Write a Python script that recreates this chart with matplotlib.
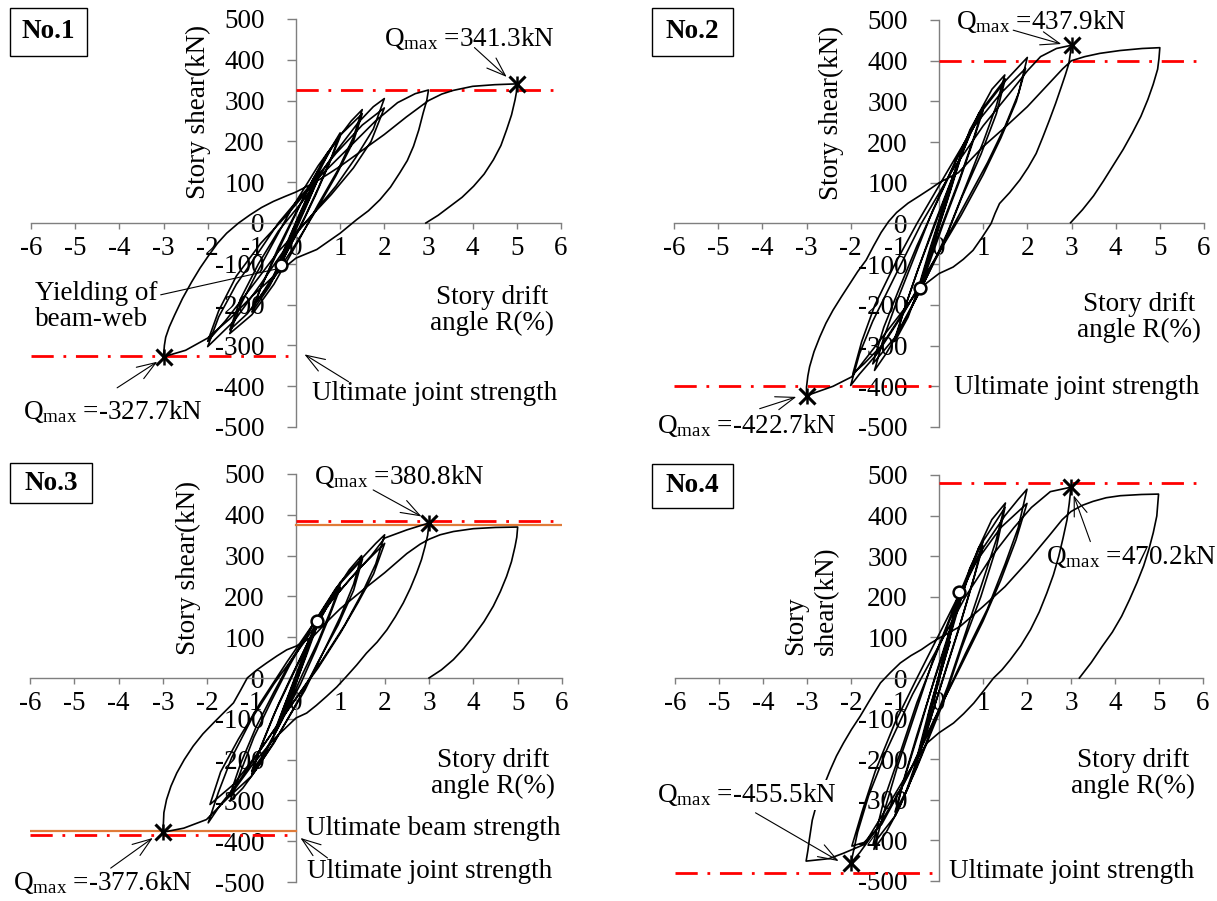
import matplotlib
matplotlib.use("Agg")
import matplotlib.pyplot as plt
from matplotlib.patches import Rectangle

plt.rcParams["font.family"] = "serif"
plt.rcParams["font.serif"] = ["Liberation Serif", "DejaVu Serif"]
plt.rcParams["mathtext.fontset"] = "custom"
plt.rcParams["mathtext.rm"] = "Liberation Serif"
plt.rcParams["mathtext.it"] = "Liberation Serif:italic"
plt.rcParams["mathtext.bf"] = "Liberation Serif:bold"
plt.rcParams["axes.unicode_minus"] = False
plt.rcParams["font.size"] = 19.5


# ============================================================
# data: (drift angle R %, story shear Q kN)
# ============================================================
P1_PATH = [
    (0, 0), (0.25, 60), (0.05, 10), (-0.25, -65), (-0.05, -12),
    (0.5, 112), (0.3, 60), (0.0, -5), (-0.33, -104), (-0.5, -135),
    (-0.3, -80), (0.0, -10), (0.5, 108), (0.25, 45), (-0.1, -40),
    (-0.5, -128), (-0.25, -60), (0.05, 15),
    # +-1 %
    (0.45, 110), (0.8, 185), (1.0, 221), (0.8, 160), (0.5, 85), (0.2, 15),
    (-0.2, -70), (-0.6, -155), (-1.0, -218), (-0.8, -160), (-0.5, -90),
    (-0.15, -10), (0.3, 90), (0.7, 170), (1.0, 212), (0.75, 145),
    (0.45, 70), (0.1, -10), (-0.4, -110), (-0.75, -170), (-1.0, -210),
    (-0.7, -135), (-0.4, -60), (-0.1, 5),
    # +-1.5 %
    (0.4, 110), (0.9, 200), (1.25, 250), (1.5, 278), (1.3, 210),
    (0.95, 130), (0.5, 45), (0.1, -35), (-0.5, -150), (-1.0, -225),
    (-1.5, -271), (-1.25, -200), (-0.9, -125), (-0.5, -45), (-0.1, 35),
    (0.5, 140), (1.0, 215), (1.5, 268), (1.3, 200), (0.9, 115),
    (0.45, 30), (0.0, -50), (-0.6, -150), (-1.1, -222), (-1.5, -262),
    (-1.25, -185), (-0.85, -100), (-0.4, -20),
    # +-2 %
    (0.2, 60), (0.8, 160), (1.4, 245), (1.75, 285), (2.0, 305),
    (1.75, 230), (1.35, 160), (0.9, 90), (0.4, 25), (-0.1, -40),
    (-0.8, -150), (-1.4, -240), (-2.0, -303), (-1.75, -230),
    (-1.35, -150), (-0.9, -80), (-0.4, 0), (0.3, 90), (0.9, 170),
    (1.5, 240), (2.0, 282), (1.7, 200), (1.3, 135), (0.8, 70), (0.2, 0),
    (-0.4, -70), (-1.1, -170), (-1.6, -240), (-2.0, -290), (-1.75, -215),
    (-1.35, -130), (-0.8, -50), (-0.2, 20),
    # +3 %
    (0.5, 110), (1.2, 185), (1.8, 250), (2.3, 295), (2.7, 317),
    (3.0, 326), (2.96, 300), (2.88, 270), (2.78, 228), (2.66, 188),
    (2.52, 153), (2.35, 123), (2.14, 88), (1.9, 57), (1.64, 30),
    (1.37, 8), (1.0, -25), (0.47, -65), (0.0, -86),
    # -3 %
    (-0.5, -130), (-1.0, -180), (-1.5, -235), (-2.0, -282), (-2.5, -312),
    (-3.0, -328), (-2.98, -300), (-2.95, -280), (-2.87, -255),
    (-2.75, -226), (-2.57, -185), (-2.36, -144), (-2.17, -110),
    (-1.98, -80), (-1.78, -50), (-1.57, -25), (-1.3, 0), (-1.04, 20),
    (-0.78, 38), (-0.51, 53), (-0.25, 65), (0.0, 76), (0.4, 98),
    (0.7, 118), (1.0, 139), (1.5, 178), (2.0, 217), (2.5, 260),
    (3.0, 300), (3.3, 316), (3.56, 325), (4.0, 335), (4.5, 339),
    (5.0, 341),
    # unloading from +5 %
    (4.99, 320), (4.96, 302), (4.88, 265), (4.77, 229), (4.64, 190),
    (4.47, 155), (4.26, 120), (4.02, 90), (3.76, 63), (3.49, 41),
    (3.22, 19), (2.94, 0),
]

P2_PATH = [
    (0, 0), (0.25, 90), (0.05, 15), (-0.25, -90), (-0.05, -15),
    (0.5, 170), (0.25, 80), (-0.1, -40), (-0.5, -175), (-0.25, -85),
    (0.1, 40), (0.5, 165), (0.2, 60), (-0.2, -75), (-0.5, -170),
    (-0.2, -60),
    # +-1 %
    (0.3, 110), (0.7, 230), (1.0, 287), (0.8, 215), (0.5, 120),
    (0.15, 20), (-0.3, -110), (-0.7, -230), (-1.0, -290), (-0.8, -215),
    (-0.5, -120), (-0.15, -20), (0.3, 110), (0.7, 220), (1.0, 278),
    (0.75, 195), (0.45, 100), (0.1, 0), (-0.42, -158), (-0.75, -235),
    (-1.0, -282), (-0.75, -200), (-0.45, -105), (-0.1, 0),
    # +-1.5 %
    (0.4, 140), (0.9, 270), (1.2, 330), (1.49, 365), (1.3, 290),
    (1.0, 200), (0.6, 90), (0.2, -20), (-0.4, -160), (-0.9, -265),
    (-1.2, -320), (-1.46, -361), (-1.25, -280), (-0.95, -190),
    (-0.55, -80), (-0.15, 30), (0.4, 160), (0.9, 270), (1.5, 355),
    (1.3, 270), (0.95, 170), (0.5, 60), (0.1, -50), (-0.5, -180),
    (-1.0, -280), (-1.5, -345), (-1.25, -255), (-0.9, -160),
    (-0.5, -55), (-0.1, 40),
    # +-2 %
    (0.5, 180), (1.0, 280), (1.5, 350), (1.8, 385), (2.0, 408),
    (1.8, 320), (1.5, 240), (1.1, 150), (0.6, 50), (0.0, -70),
    (-0.7, -200), (-1.3, -300), (-1.7, -345), (-1.95, -369),
    (-1.75, -290), (-1.45, -200), (-1.0, -100), (-0.5, 0), (0.2, 130),
    (0.8, 240), (1.4, 320), (1.96, 381), (1.75, 300), (1.4, 210),
    (1.0, 120), (0.5, 20), (-0.1, -90), (-0.8, -220), (-1.4, -320),
    (-1.8, -370), (-2.0, -398),
    # +3 %
    (-1.8, -320), (-1.5, -240), (-1.0, -130), (-0.4, 0), (0.3, 130),
    (1.0, 240), (1.6, 320), (2.0, 375), (2.3, 410), (2.66, 430),
    (3.0, 438), (2.97, 415), (2.94, 393), (2.86, 365), (2.77, 336),
    (2.64, 295), (2.5, 254), (2.35, 212), (2.2, 172), (2.02, 138),
    (1.83, 107), (1.6, 76), (1.37, 49), (1.27, 25), (1.18, 0),
    (0.97, -35), (0.77, -66), (0.55, -88), (0.32, -107), (0.0, -123),
    # -3 %
    (-0.42, -158), (-1.0, -240), (-1.5, -310), (-1.98, -377),
    (-2.4, -400), (-3.0, -423), (-3.0, -402), (-2.97, -375),
    (-2.93, -352), (-2.83, -315), (-2.7, -279), (-2.56, -245),
    (-2.4, -213), (-2.21, -180), (-2.02, -148), (-1.84, -118),
    (-1.65, -90), (-1.48, -55), (-1.31, -22), (-1.14, 5), (-0.96, 27),
    (-0.7, 50), (-0.44, 68), (-0.2, 85), (0.0, 100), (0.44, 125),
    (1.0, 189), (1.5, 237), (2.0, 287), (2.5, 345), (2.8, 380),
    (3.0, 400), (3.3, 410), (3.64, 418), (4.1, 425), (4.6, 430),
    (5.0, 432),
    # unloading from +5 %
    (4.98, 405), (4.95, 379), (4.85, 342), (4.73, 305), (4.57, 263),
    (4.38, 223), (4.17, 182), (3.94, 142), (3.72, 104), (3.5, 68),
    (3.25, 34), (2.98, 2),
]

P3_PATH = [
    (0, 0), (0.25, 70), (0.05, 10), (-0.25, -70), (-0.05, -10),
    (0.5, 135), (0.25, 60), (-0.1, -40), (-0.5, -140), (-0.25, -65),
    (0.1, 30), (0.47, 139), (0.25, 65), (-0.1, -45), (-0.5, -135),
    (-0.2, -50),
    # +-1 %
    (0.3, 95), (0.7, 180), (1.0, 230), (0.8, 170), (0.5, 90), (0.15, 10),
    (-0.3, -100), (-0.7, -185), (-1.0, -235), (-0.8, -170), (-0.5, -90),
    (-0.15, -10), (0.3, 95), (0.7, 175), (1.0, 222), (0.75, 150),
    (0.45, 70), (0.1, -15), (-0.4, -120), (-0.75, -190), (-1.0, -228),
    (-0.7, -145), (-0.4, -65), (-0.1, 5),
    # +-1.5 %
    (0.4, 115), (0.9, 215), (1.2, 265), (1.48, 300), (1.3, 230),
    (1.0, 150), (0.6, 60), (0.2, -30), (-0.4, -140), (-0.9, -225),
    (-1.2, -270), (-1.49, -302), (-1.25, -230), (-0.95, -145),
    (-0.55, -55), (-0.15, 30), (0.4, 135), (0.9, 220), (1.5, 292),
    (1.3, 215), (0.95, 130), (0.5, 40), (0.1, -45), (-0.5, -160),
    (-1.0, -240), (-1.5, -290), (-1.25, -210), (-0.9, -120),
    (-0.5, -35), (-0.1, 45),
    # +-2 %
    (0.5, 150), (1.0, 235), (1.5, 295), (1.8, 330), (2.0, 351),
    (1.8, 280), (1.5, 210), (1.1, 130), (0.6, 45), (0.0, -50),
    (-0.7, -160), (-1.3, -255), (-1.7, -310), (-1.98, -355),
    (-1.75, -280), (-1.45, -195), (-1.0, -100), (-0.5, -15), (0.2, 90),
    (0.8, 190), (1.4, 265), (2.0, 330), (1.75, 255), (1.4, 185),
    (1.0, 110), (0.5, 25), (-0.1, -65), (-0.8, -175), (-1.4, -260),
    (-1.94, -310),
    # +3 %
    (-1.7, -230), (-1.3, -150), (-0.8, -60), (-0.2, 40), (0.5, 150),
    (1.2, 240), (1.7, 300), (2.0, 343), (2.5, 363), (3.0, 380),
    (2.97, 350), (2.91, 322), (2.83, 290), (2.72, 257), (2.58, 220),
    (2.42, 184), (2.24, 150), (2.05, 118), (1.83, 88), (1.59, 61),
    (1.37, 32), (1.14, 4), (0.92, -22), (0.69, -45), (0.46, -67),
    (0.24, -86), (0.0, -98),
    # -3 %
    (-0.5, -150), (-1.0, -215), (-1.5, -290), (-2.02, -347),
    (-2.53, -368), (-3.0, -378), (-2.98, -330), (-2.92, -298),
    (-2.82, -265), (-2.69, -233), (-2.52, -200), (-2.32, -167),
    (-2.1, -137), (-1.86, -110), (-1.63, -85), (-1.41, -61),
    (-1.25, -30), (-1.1, 0), (-0.88, 20), (-0.66, 37), (-0.43, 54),
    (-0.21, 69), (0.0, 78), (0.39, 102), (0.7, 138), (1.0, 170),
    (1.5, 215), (2.0, 258), (2.5, 305), (2.8, 328), (3.0, 340),
    (3.25, 351), (3.55, 359), (4.0, 366), (4.5, 369), (5.0, 370),
    # unloading from +5 %
    (4.98, 345), (4.94, 322), (4.86, 285), (4.75, 249), (4.61, 212),
    (4.45, 176), (4.24, 138), (4.0, 102), (3.78, 72), (3.55, 45),
    (3.28, 20), (3.0, 0),
]

P4_PATH = [
    (0, 0), (0.25, 90), (0.05, 15), (-0.25, -95), (-0.05, -15),
    (0.45, 211), (0.5, 220), (0.25, 110), (-0.1, -45), (-0.5, -200),
    (-0.25, -100), (0.1, 40), (0.5, 215), (0.2, 80), (-0.2, -90),
    (-0.5, -195), (-0.2, -70),
    # +-1 %
    (0.3, 120), (0.7, 270), (1.0, 336), (0.8, 250), (0.5, 140),
    (0.15, 20), (-0.3, -140), (-0.7, -270), (-1.0, -340), (-0.8, -250),
    (-0.5, -140), (-0.15, -20), (0.3, 130), (0.7, 260), (1.0, 325),
    (0.75, 230), (0.45, 120), (0.1, 0), (-0.4, -170), (-0.75, -280),
    (-1.0, -330), (-0.75, -235), (-0.45, -130), (-0.1, 0),
    # +-1.5 %
    (0.4, 170), (0.9, 320), (1.2, 390), (1.51, 431), (1.3, 340),
    (1.0, 240), (0.6, 110), (0.2, -20), (-0.4, -190), (-0.9, -320),
    (-1.2, -380), (-1.48, -422), (-1.25, -330), (-0.95, -220),
    (-0.55, -90), (-0.15, 40), (0.4, 190), (0.9, 320), (1.5, 420),
    (1.3, 320), (0.95, 200), (0.5, 70), (0.1, -60), (-0.5, -220),
    (-1.0, -340), (-1.5, -410), (-1.25, -300), (-0.9, -190),
    (-0.5, -60), (-0.1, 50),
    # +-2 %
    (0.5, 210), (1.0, 320), (1.5, 400), (1.8, 440), (2.0, 465),
    (1.8, 370), (1.5, 280), (1.1, 170), (0.6, 60), (0.0, -80),
    (-0.7, -240), (-1.3, -360), (-1.7, -405), (-1.98, -414),
    (-1.75, -330), (-1.45, -230), (-1.0, -110), (-0.5, 0), (0.2, 150),
    (0.8, 280), (1.4, 370), (2.0, 430), (1.75, 340), (1.4, 240),
    (1.0, 140), (0.5, 30), (-0.1, -100), (-0.8, -260), (-1.4, -370),
    (-1.8, -430), (-2.0, -455),
    # +3 %
    (-1.85, -380), (-1.6, -290), (-1.2, -180), (-0.6, -40), (0.0, 80),
    (0.6, 200), (1.2, 300), (1.7, 370), (2.1, 420), (2.53, 459),
    (3.0, 470), (2.96, 430), (2.91, 390), (2.82, 345), (2.72, 299),
    (2.6, 254), (2.45, 209), (2.28, 163), (2.08, 119), (1.86, 80),
    (1.62, 45), (1.43, 20), (1.24, 0), (1.01, -32), (0.79, -62),
    (0.56, -88), (0.33, -111), (0.0, -135), (-0.27, -160),
    # -3 %
    (-0.8, -250), (-1.3, -340), (-1.7, -410), (-2.18, -432),
    (-2.5, -445), (-3.02, -451), (-2.98, -425), (-2.95, -400),
    (-2.88, -350), (-2.8, -318), (-2.7, -290), (-2.59, -258),
    (-2.47, -226), (-2.33, -192), (-2.17, -160), (-1.99, -127),
    (-1.79, -94), (-1.56, -52), (-1.33, -12), (-1.1, 14), (-0.88, 37),
    (-0.64, 55), (-0.4, 70), (-0.2, 85), (0.0, 98), (0.48, 127),
    (1.0, 176), (1.5, 225), (2.0, 285), (2.5, 350), (2.8, 390),
    (3.0, 410), (3.25, 425), (3.5, 435), (3.8, 444), (4.12, 449),
    (4.6, 452), (4.99, 453),
    # unloading from +5 %
    (4.97, 425), (4.95, 399), (4.87, 358), (4.77, 317), (4.65, 276),
    (4.5, 235), (4.33, 193), (4.15, 152), (3.94, 113), (3.71, 78),
    (3.46, 38), (3.19, 0),
]

PANEL_NAMES = ["No.1", "No.2", "No.3", "No.4"]
QMAX_POS = [341.3, 437.9, 380.8, 470.2]
QMAX_NEG = [-327.7, -422.7, -377.6, -455.5]
QMAX_POS_R = [5.0, 3.0, 3.0, 3.0]
QMAX_NEG_R = [-3.0, -3.0, -3.0, -2.0]
YIELD_PTS = [(-0.33, -104), (-0.42, -158), (0.47, 139), (0.45, 211)]
JOINT_STRENGTH = [(327, -327), (400, -400), (386, -386), (480, -480)]
BEAM_STRENGTH = [None, None, (375, -375), None]

X_TICKS = list(range(-6, 7))
Y_TICKS = list(range(-500, 501, 100))

AXIS_GREY = "#7f7f7f"
RED = "#ff0000"
ORANGE = "#e07b39"

# axes boxes in figure pixels (left, top, right, bottom) of a 1217x901 figure
W, H = 1217, 901
AX_BOXES = [(31, 19, 561, 427), (674, 20, 1204, 427),
            (30, 474, 562, 882), (675, 475, 1203, 881)]
NAME_BOXES = [(10, 8, 87, 56), (652, 8, 733, 56),
              (10, 463, 92, 503), (652, 464, 733, 508)]

# text / arrow placement in data coords per panel
LAYOUT = [
    dict(pos_txt=(2.0, 451), pos_arrow=((4.04, 430), (4.77, 358)),
         neg_txt=(-6.17, -462), neg_arrow=((-4.05, -404), (-3.14, -340)),
         ylab=(-2.21, 272), xlab=(4.43, -215),
         joint_txt=(3.15, -418), joint_arrow=((1.19, -389), (0.19, -322))),
    dict(pos_txt=(0.39, 497), pos_arrow=((1.68, 475), (2.77, 441)),
         neg_txt=(-6.39, -497), neg_arrow=((-4.06, -455), (-3.23, -426)),
         ylab=(-2.44, 272), xlab=(4.52, -231),
         joint_txt=(3.11, -403), joint_arrow=None),
    dict(pos_txt=(0.41, 494), pos_arrow=((1.74, 461), (2.83, 396)),
         neg_txt=(-6.38, -502), neg_arrow=((-4.18, -466), (-3.23, -392)),
         ylab=(-2.43, 270), xlab=(4.45, -233),
         joint_txt=(3.02, -474), joint_arrow=((0.71, -441), (0.1, -392)),
         beam_txt=(3.09, -368)),
    dict(pos_txt=(2.44, 300), pos_arrow=((3.44, 336), (3.06, 450)),
         neg_txt=(-6.4, -288), neg_arrow=((-4.17, -332), (-2.28, -451)),
         ylab=(-2.9, 57), xlab=(4.42, -235),
         joint_txt=(3.01, -477), joint_arrow=None),
]

DASHDOT = (0, (8, 3.5, 1, 3.5))


def qmax_label(v):
    return r"Q$_{\rm max}$ =" + f"{v}kN"


def arrow(ax, tail, head, lw=0.8):
    ax.annotate("", xy=head, xytext=tail,
                arrowprops=dict(arrowstyle="->,head_length=0.7,head_width=0.25",
                                lw=lw, color="black", shrinkA=0, shrinkB=0))


def draw_panel(fig, k, path):
    l, t, r, b = AX_BOXES[k]
    ax = fig.add_axes([l / W, 1 - b / H, (r - l) / W, (b - t) / H])
    ax.patch.set_visible(False)
    ax.set_xlim(-6, 6)
    ax.set_ylim(-500, 500)
    for side in ("top", "right"):
        ax.spines[side].set_visible(False)
    ax.spines["left"].set_position(("data", 0))
    ax.spines["bottom"].set_position(("data", 0))
    for side in ("left", "bottom"):
        ax.spines[side].set_color(AXIS_GREY)
        ax.spines[side].set_linewidth(1.0)
    ax.set_xticks(X_TICKS)
    ax.set_yticks(Y_TICKS)
    ax.tick_params(axis="x", direction="out", length=4.3, width=1.0,
                   color=AXIS_GREY, pad=5)
    ax.tick_params(axis="y", direction="out", length=6.5, width=1.0,
                   color=AXIS_GREY, pad=16)

    # strength lines
    jp, jn = JOINT_STRENGTH[k]
    if BEAM_STRENGTH[k] is not None:
        bp, bn = BEAM_STRENGTH[k]
        ax.axhline(bp, xmin=0.5, xmax=1.0, color=ORANGE, lw=1.6, zorder=3)
        ax.axhline(bn, xmin=0.0, xmax=0.5, color=ORANGE, lw=1.6, zorder=3)
    ax.axhline(jp, xmin=0.5, xmax=1.0, color=RED, lw=2.0, ls=DASHDOT, zorder=3)
    ax.axhline(jn, xmin=0.0, xmax=0.5, color=RED, lw=2.0, ls=DASHDOT, zorder=3)

    R = [p[0] for p in path]
    Q = [p[1] for p in path]
    ax.plot(R, Q, color="black", lw=1.2, solid_joinstyle="round", zorder=4)

    # Q_max markers
    for x, y in ((QMAX_POS_R[k], QMAX_POS[k]), (QMAX_NEG_R[k], QMAX_NEG[k])):
        ax.plot([x], [y], marker="x", ms=11, mew=2.2, color="black", zorder=6)
        ax.plot([x], [y], marker="|", ms=12, mew=1.8, color="black", zorder=6)
    yx, yy = YIELD_PTS[k]
    ax.plot([yx], [yy], marker="o", ms=8.5, mew=1.8, mfc="white",
            mec="black", zorder=7)

    lay = LAYOUT[k]
    ax.text(*lay["pos_txt"], qmax_label(QMAX_POS[k]), ha="left", va="center",
            zorder=8)
    arrow(ax, *lay["pos_arrow"])
    neg = ax.text(*lay["neg_txt"], qmax_label(QMAX_NEG[k]), ha="left",
                  va="center", zorder=8)
    if k == 3:
        neg.set_bbox(dict(facecolor="white", edgecolor="none", pad=1))
    arrow(ax, *lay["neg_arrow"])

    ax.text(*lay["joint_txt"], "Ultimate joint strength", ha="center",
            va="center", zorder=8)
    if lay["joint_arrow"] is not None:
        arrow(ax, *lay["joint_arrow"])
    if "beam_txt" in lay:
        ax.text(*lay["beam_txt"], "Ultimate beam strength", ha="center",
                va="center", zorder=8)

    ax.text(*lay["xlab"], "Story drift\nangle R(%)", ha="center",
            va="center", multialignment="center", linespacing=1.05)
    if k == 3:
        ax.text(*lay["ylab"], "Story\nshear(kN)", rotation=90, ha="center",
                va="bottom", multialignment="left", linespacing=1.3)
    else:
        ax.text(*lay["ylab"], "Story shear(kN)", rotation=90, ha="center",
                va="center")

    if k == 0:
        ax.annotate("Yielding of\nbeam-web", xy=(yx - 0.08, yy - 8),
                    xytext=(-5.9, -205), ha="left", va="center",
                    linespacing=1.05,
                    arrowprops=dict(arrowstyle="-", lw=0.8, color="black",
                                    shrinkA=0, shrinkB=0,
                                    relpos=(1.0, 0.72)))

    # panel name box
    bl, bt, br, bb = NAME_BOXES[k]
    fig.add_artist(Rectangle((bl / W, 1 - bb / H), (br - bl) / W, (bb - bt) / H,
                             transform=fig.transFigure, fill=False,
                             ec="black", lw=1.0))
    fig.text((bl + br) / 2 / W, 1 - (bt + bb) / 2 / H, PANEL_NAMES[k],
             ha="center", va="center", fontweight="bold")
    return ax


fig = plt.figure(figsize=(W / 100, H / 100), dpi=100)
for k, path in enumerate([P1_PATH, P2_PATH, P3_PATH, P4_PATH]):
    draw_panel(fig, k, path)

fig.savefig("out.png", dpi=100)
